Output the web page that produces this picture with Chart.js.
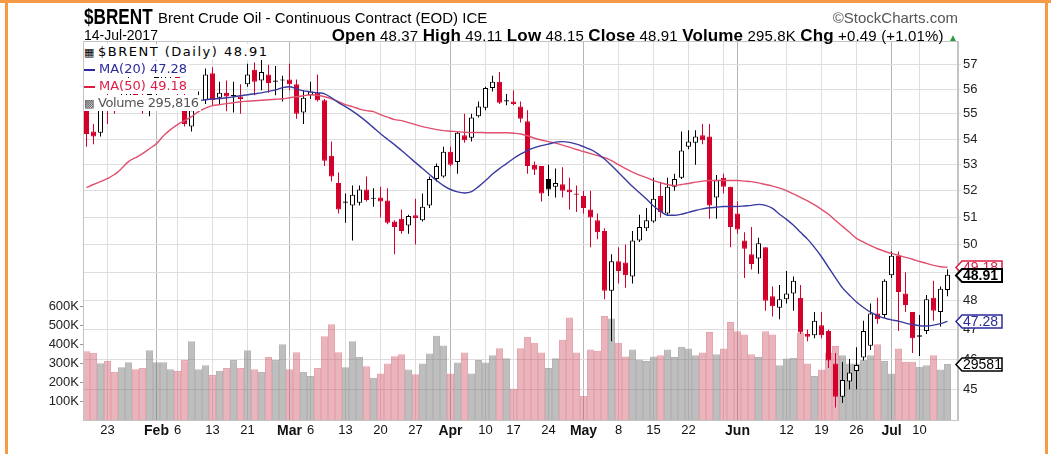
<!DOCTYPE html>
<html>
<head>
<meta charset="utf-8">
<script src="https://cdn.jsdelivr.net/npm/chart.js@4.4.0/dist/chart.umd.min.js"></script>
<style>
html, body { margin: 0; padding: 0; background: #fff; }
#wrap { position: relative; width: 1051px; height: 454px; overflow: hidden; background: #fff; }
#chart { position: absolute; left: 0; top: 0; }
.t { position: absolute; white-space: nowrap; font-family: "Liberation Sans", Arial, sans-serif; color: #000; line-height: 1; }
.lg { position: absolute; white-space: nowrap; font-family: "DejaVu Sans", Verdana, sans-serif; font-size: 13px; line-height: 16px; height: 16px; background: #fff; padding-right: 2px; }
.frame { position: absolute; background: #f79a46; }
</style>
</head>
<body>
<div id="wrap">
  <canvas id="chart" width="1051" height="454"></canvas>

  <div class="frame" style="left:0;top:0;width:1051px;height:3px"></div>
  <div class="frame" style="left:5px;top:0;width:3px;height:454px"></div>
  <div class="frame" style="left:1045px;top:0;width:3px;height:454px"></div>

  <div class="t" style="left:84px;top:6px;font-size:22px;font-weight:bold;transform:scaleX(0.78);transform-origin:left top">$BRENT</div>
  <div class="t" style="left:158px;top:10px;font-size:15px">Brent Crude Oil - Continuous Contract (EOD) ICE</div>
  <div class="t" style="right:93px;top:10px;font-size:15px;color:#555">&copy;StockCharts.com</div>
  <div class="t" style="left:84px;top:28px;font-size:14px">14-Jul-2017</div>
  <div class="t" style="right:93px;top:27px;font-size:15px;letter-spacing:0.15px">
    <b style="font-size:17px">Open</b> 48.37 <b style="font-size:17px">High</b> 49.11 <b style="font-size:17px">Low</b> 48.15
    <b style="font-size:17px">Close</b> 48.91 <b style="font-size:17px">Volume</b> 295.8K <b style="font-size:17px">Chg</b> +0.49 (+1.01%)
    <span style="color:#2a9a3a;font-size:10px">&#9650;</span>
  </div>

  <div class="lg" style="left:84px;top:44px;color:#000;letter-spacing:1.5px">
    <span style="display:inline-block;width:14px;font-size:11px">&#9638;</span>$BRENT (Daily) 48.91</div>
  <div class="lg" style="left:84px;top:61px;color:#2b2b9c">
    <span style="display:inline-block;width:11px;height:2px;background:#2b2b9c;vertical-align:middle;margin-right:4px"></span>MA(20) 47.28</div>
  <div class="lg" style="left:84px;top:78px;color:#dc1e46">
    <span style="display:inline-block;width:11px;height:2px;background:#dc1e46;vertical-align:middle;margin-right:4px"></span>MA(50) 49.18</div>
  <div class="lg" style="left:84px;top:95px;color:#555;letter-spacing:-0.4px">
    <span style="display:inline-block;width:14px;font-size:11px">&#9641;</span>Volume 295,816</div>
</div>

<script>
// trading days shown on the chart
const dates = [
  '2017-01-18','2017-01-19','2017-01-20','2017-01-23','2017-01-24','2017-01-25','2017-01-26','2017-01-27','2017-01-30','2017-01-31',
  '2017-02-01','2017-02-02','2017-02-03','2017-02-06','2017-02-07','2017-02-08','2017-02-09','2017-02-10','2017-02-13','2017-02-14',
  '2017-02-15','2017-02-16','2017-02-17','2017-02-21','2017-02-22','2017-02-23','2017-02-24','2017-02-27','2017-02-28',
  '2017-03-01','2017-03-02','2017-03-03','2017-03-06','2017-03-07','2017-03-08','2017-03-09','2017-03-10','2017-03-13','2017-03-14',
  '2017-03-15','2017-03-16','2017-03-17','2017-03-20','2017-03-21','2017-03-22','2017-03-23','2017-03-24','2017-03-27','2017-03-28',
  '2017-03-29','2017-03-30','2017-03-31',
  '2017-04-03','2017-04-04','2017-04-05','2017-04-06','2017-04-07','2017-04-10','2017-04-11','2017-04-12','2017-04-13','2017-04-17',
  '2017-04-18','2017-04-19','2017-04-20','2017-04-21','2017-04-24','2017-04-25','2017-04-26','2017-04-27','2017-04-28',
  '2017-05-01','2017-05-02','2017-05-03','2017-05-04','2017-05-05','2017-05-08','2017-05-09','2017-05-10','2017-05-11','2017-05-12',
  '2017-05-15','2017-05-16','2017-05-17','2017-05-18','2017-05-19','2017-05-22','2017-05-23','2017-05-24','2017-05-25','2017-05-26',
  '2017-05-30','2017-05-31',
  '2017-06-01','2017-06-02','2017-06-05','2017-06-06','2017-06-07','2017-06-08','2017-06-09','2017-06-12','2017-06-13','2017-06-14',
  '2017-06-15','2017-06-16','2017-06-19','2017-06-20','2017-06-21','2017-06-22','2017-06-23','2017-06-26','2017-06-27','2017-06-28',
  '2017-06-29','2017-06-30',
  '2017-07-03','2017-07-05','2017-07-06','2017-07-07','2017-07-10','2017-07-11','2017-07-12','2017-07-13','2017-07-14'
];

const openPrice = [
  55.3, 54.3, 54.25, 55.6, 55.4, 55.3, 55.7, 56.2, 55.6, 55.4,
  55.8, 56.4, 56.5, 56.7, 55.6, 54.5, 55.2, 55.55, 56.65, 55.65,
  55.85, 55.72, 55.7, 56.2, 56.8, 56.35, 56.6, 56.3, 56.35,
  56.4, 56.2, 55.05, 55.75, 55.85, 55.55, 53.35, 52.3, 51.55, 51.45,
  51.55, 52.05, 51.7, 51.75, 51.63, 50.85, 50.95, 50.7, 51.08, 50.9,
  51.45, 52.45, 52.55,
  53.5, 53.1, 54.15, 54.05, 54.9, 55.25, 56.05, 56.3, 55.5, 55.5,
  55.3, 54.7, 53.0, 52.95, 52.45, 52.15, 52.25, 52.05, 51.9,
  51.8, 51.3, 50.9, 50.5, 48.35, 49.4, 49.35, 48.85, 50.15, 50.6,
  50.85, 51.8, 51.15, 52.15, 52.5, 53.7, 53.85, 54.15, 54.1, 51.75,
  52.5, 52.15,
  51.15, 50.15, 49.65, 49.5, 49.9, 48.15, 47.75, 48.05, 48.25, 48.1,
  46.85, 46.8, 47.15, 46.95, 45.85, 44.75, 45.25, 45.6, 46.05, 46.45,
  47.55, 47.5,
  48.9, 49.6, 48.25, 47.6, 46.75, 46.95, 48.1, 47.6, 48.37
];
const highPrice = [
  55.5, 54.6, 55.5, 55.8, 55.7, 55.9, 56.5, 56.4, 55.8, 56.0,
  56.8, 56.9, 57.0, 56.9, 55.9, 55.3, 55.9, 56.85, 56.9, 56.3,
  56.35, 56.3, 56.2, 57.05, 57.1, 57.2, 57.0, 56.95, 56.55,
  57.05, 56.4, 55.95, 56.3, 56.6, 55.6, 53.9, 52.7, 51.9, 52.2,
  52.2, 52.55, 52.1, 52.15, 52.1, 50.9, 51.3, 51.1, 51.7, 51.9,
  52.55, 53.05, 53.7,
  53.7, 54.3, 55.0, 55.0, 55.5, 56.1, 56.55, 56.7, 55.8, 55.95,
  55.5, 55.15, 53.12, 52.95, 53.0, 52.85, 52.9, 52.5, 52.2,
  52.0, 52.0, 51.15, 50.6, 49.65, 49.9, 50.0, 50.5, 51.1, 51.35,
  52.5, 52.3, 52.5, 52.65, 54.3, 54.35, 54.35, 54.6, 54.6, 52.6,
  52.65, 52.15,
  51.6, 50.45, 50.65, 50.25, 49.9, 48.5, 48.55, 49.05, 48.85, 48.55,
  47.0, 47.6, 47.6, 47.0, 46.2, 45.9, 46.0, 46.4, 47.3, 47.9,
  48.1, 48.75,
  49.75, 49.75, 49.0, 47.6, 47.5, 48.2, 48.7, 48.5, 49.11
];
const lowPrice = [
  53.7, 53.8, 54.1, 54.6, 55.0, 55.2, 55.4, 55.3, 55.0, 54.9,
  55.6, 56.0, 56.2, 55.6, 54.5, 54.3, 55.1, 55.4, 55.35, 55.35,
  55.1, 55.05, 55.0, 56.1, 55.75, 55.95, 55.85, 55.75, 55.5,
  55.95, 54.8, 54.6, 55.6, 55.5, 52.95, 52.35, 51.15, 50.8, 50.15,
  51.45, 51.6, 51.4, 51.0, 50.75, 49.65, 50.4, 50.4, 50.0, 50.85,
  51.35, 52.35, 52.5,
  52.95, 52.65, 53.85, 53.9, 54.85, 55.15, 55.9, 55.4, 55.35, 55.35,
  54.65, 52.65, 52.6, 51.6, 51.8, 51.75, 51.75, 51.3, 51.2,
  51.15, 49.9, 50.2, 48.05, 46.6, 48.6, 48.45, 48.6, 50.1, 50.5,
  50.8, 51.0, 51.05, 52.0, 52.45, 53.6, 53.0, 53.8, 50.95, 50.95,
  51.9, 49.9,
  50.4, 48.8, 49.1, 48.95, 47.65, 47.45, 47.35, 47.9, 47.65, 46.85,
  46.6, 46.7, 46.7, 45.7, 44.4, 44.55, 45.0, 45.0, 45.95, 46.3,
  47.2, 47.4,
  48.8, 46.95, 47.6, 46.2, 46.1, 46.85, 47.3, 47.1, 48.15
];
const closePrice = [
  54.2, 54.1, 55.25, 55.2, 55.1, 55.7, 56.3, 55.6, 55.3, 55.8,
  56.5, 56.6, 56.8, 55.8, 54.6, 55.15, 55.7, 56.6, 55.55, 55.85,
  55.7, 55.75, 55.6, 56.6, 56.3, 56.7, 56.25, 56.35, 56.4,
  56.2, 55.0, 55.65, 55.9, 55.55, 53.15, 52.55, 51.3, 51.6, 51.85,
  52.05, 51.65, 51.72, 51.6, 50.8, 50.65, 50.5, 51.05, 50.98, 51.4,
  52.45, 52.95, 53.5,
  53.0, 54.25, 53.95, 54.85, 55.3, 56.05, 56.3, 55.45, 55.55, 55.4,
  54.8, 52.95, 52.8, 51.9, 52.05, 52.3, 52.0, 51.95, 51.85,
  51.35, 51.0, 50.45, 48.35, 49.4, 49.05, 48.9, 50.15, 50.65, 50.9,
  51.7, 51.2, 52.15, 52.45, 53.55, 53.9, 54.1, 53.95, 51.45, 52.4,
  52.15, 50.65,
  50.55, 49.85, 49.3, 50.05, 48.0, 47.8, 48.05, 48.25, 48.7, 46.9,
  46.75, 47.3, 46.8, 45.95, 44.75, 45.3, 45.55, 45.8, 46.95, 47.55,
  47.35, 48.7,
  49.6, 48.3, 47.85, 46.7, 46.8, 48.05, 47.65, 48.42, 48.91
];
const priorClose = 54.5;

const volume = [
  363000, 353000, 300000, 311000, 253000, 279000, 305000, 268000, 274000, 368000,
  305000, 305000, 268000, 258000, 316000, 416000, 268000, 289000, 237000, 258000,
  274000, 316000, 274000, 368000, 268000, 253000, 332000, 316000, 400000,
  268000, 358000, 253000, 232000, 274000, 442000, 505000, 358000, 279000, 416000,
  332000, 284000, 223000, 246000, 298000, 337000, 347000, 267000, 241000, 298000,
  351000, 444000, 393000,
  246000, 304000, 356000, 246000, 317000, 304000, 342000, 379000, 326000, 165000,
  379000, 438000, 407000, 356000, 275000, 326000, 423000, 541000, 356000,
  126000, 372000, 365000, 549000, 535000, 407000, 335000, 372000, 319000, 312000,
  335000, 342000, 372000, 333000, 386000, 377000, 342000, 356000, 465000, 347000,
  377000, 517000,
  468000, 451000, 347000, 333000, 468000, 451000, 289000, 325000, 328000, 461000,
  298000, 232000, 267000, 356000, 391000, 342000, 298000, 298000, 316000, 342000,
  400000, 311000,
  246000, 377000, 307000, 307000, 281000, 289000, 342000, 267000, 295816
];

const ma20 = [
  55.35, 55.38, 55.4, 55.42, 55.44, 55.45, 55.46, 55.47, 55.48, 55.48,
  55.49, 55.5, 55.5, 55.51, 55.51, 55.52, 55.53, 55.57, 55.6, 55.62,
  55.65, 55.69, 55.73, 55.77, 55.81, 55.85, 55.91, 55.97, 56.06,
  56.1, 56.01, 55.93, 55.89, 55.85, 55.81, 55.65, 55.45, 55.29, 55.11,
  54.91, 54.69, 54.45, 54.21, 53.99, 53.78, 53.55, 53.32, 53.08, 52.85,
  52.62, 52.39, 52.2,
  52.05, 51.96, 51.92, 51.97, 52.16, 52.39, 52.64, 52.85, 53.04, 53.24,
  53.41, 53.55, 53.66, 53.74, 53.8, 53.88, 53.9, 53.87, 53.8,
  53.7, 53.59, 53.43, 53.22, 52.97, 52.7, 52.43, 52.16, 51.93, 51.69,
  51.43, 51.23, 51.08, 51.08, 51.12, 51.19, 51.26, 51.32, 51.36, 51.38,
  51.41, 51.41,
  51.41, 51.43, 51.45, 51.49, 51.45, 51.34, 51.12, 50.93, 50.71, 50.45,
  50.2, 49.9, 49.56, 49.18, 48.8, 48.45, 48.19, 47.95, 47.76, 47.6,
  47.48, 47.39,
  47.33, 47.29, 47.22, 47.17, 47.13, 47.12, 47.15, 47.2, 47.28
];
const ma50 = [
  52.12, 52.24, 52.35, 52.47, 52.62, 52.85, 53.12, 53.27, 53.43, 53.62,
  53.82, 54.13, 54.37, 54.57, 54.73, 54.89, 55.09, 55.23, 55.33, 55.37,
  55.41, 55.45, 55.49, 55.51, 55.53, 55.55, 55.57, 55.59, 55.61,
  55.65, 55.69, 55.73, 55.77, 55.75, 55.69, 55.61, 55.49, 55.37, 55.29,
  55.19, 55.13, 55.09, 54.97, 54.87, 54.77, 54.73, 54.65, 54.57, 54.49,
  54.43, 54.37, 54.33,
  54.31, 54.29, 54.27, 54.26, 54.26, 54.25, 54.25, 54.25, 54.25, 54.23,
  54.2, 54.13, 54.03, 53.96, 53.9, 53.84, 53.76, 53.68, 53.59,
  53.51, 53.43, 53.35, 53.27, 53.16, 53.0, 52.85, 52.71, 52.6, 52.5,
  52.39, 52.31, 52.24, 52.2, 52.24, 52.28, 52.33, 52.37, 52.39, 52.39,
  52.39, 52.39,
  52.39, 52.37, 52.35, 52.3, 52.24, 52.18, 52.1, 52.01, 51.88, 51.75,
  51.62, 51.47, 51.3, 51.12, 50.89, 50.67, 50.45, 50.23, 50.09, 49.96,
  49.85, 49.76,
  49.68, 49.61, 49.54, 49.47, 49.39, 49.32, 49.25, 49.2, 49.18
];

const priceTicks = [45, 46, 47, 48, 49, 50, 51, 52, 53, 54, 55, 56, 57];
const volumeTicks = [100000, 200000, 300000, 400000, 500000, 600000];
// [date, text, month start]
const xTickLabels = [
  ['2017-01-23', '23', false], ['2017-02-01', 'Feb', true], ['2017-02-06', '6', false],
  ['2017-02-13', '13', false], ['2017-02-21', '21', false], ['2017-03-01', 'Mar', true],
  ['2017-03-06', '6', false], ['2017-03-13', '13', false], ['2017-03-20', '20', false],
  ['2017-03-27', '27', false], ['2017-04-03', 'Apr', true], ['2017-04-10', '10', false],
  ['2017-04-17', '17', false], ['2017-04-24', '24', false], ['2017-05-01', 'May', true],
  ['2017-05-08', '8', false], ['2017-05-15', '15', false], ['2017-05-22', '22', false],
  ['2017-05-30', '', false], ['2017-06-01', 'Jun', true], ['2017-06-12', '12', false],
  ['2017-06-19', '19', false], ['2017-06-26', '26', false], ['2017-07-03', 'Jul', true],
  ['2017-07-10', '10', false]
];

const RED = '#d4002c';
const BLACK = '#000000';
const isUp = closePrice.map((c, k) => c >= (k === 0 ? priorClose : closePrice[k - 1]));
const strokeColor = isUp.map(u => u ? BLACK : RED);
const bodyFill = closePrice.map((c, k) => c < openPrice[k] ? strokeColor[k] : '#ffffff');

const xTicks = xTickLabels.map(t => ({ value: dates.indexOf(t[0]), text: t[1], major: t[2] }));
const axisFont = '"Liberation Sans", Arial, sans-serif';

const last = dates.length - 1;
const tags = [
  { axis: 'y', value: ma50[last], text: ma50[last].toFixed(2), color: '#dc1e46', bold: false },
  { axis: 'y', value: closePrice[last], text: closePrice[last].toFixed(2), color: '#000', bold: true },
  { axis: 'y', value: ma20[last], text: ma20[last].toFixed(2), color: '#2b2b9c', bold: false },
  { axis: 'yVol', value: volume[last], text: String(volume[last]), color: '#000', bold: false }
];

const tagPlugin = {
  id: 'tags',
  afterDraw(chart) {
    const ctx = chart.ctx;
    const area = chart.chartArea;
    // plot frame
    ctx.save();
    ctx.strokeStyle = '#c4c4c4';
    ctx.lineWidth = 1;
    ctx.strokeRect(area.left + 0.5, area.top + 0.5, area.right - area.left - 1, area.bottom - area.top);
    ctx.restore();

    tags.forEach(t => {
      const yc = Math.round(chart.scales[t.axis].getPixelForValue(t.value)) + 0.5;
      const x = area.right - 2, w = 46, h = 13;
      ctx.save();
      ctx.beginPath();
      ctx.moveTo(x, yc);
      ctx.lineTo(x + 6, yc - h / 2);
      ctx.lineTo(x + w, yc - h / 2);
      ctx.lineTo(x + w, yc + h / 2);
      ctx.lineTo(x + 6, yc + h / 2);
      ctx.closePath();
      ctx.fillStyle = '#fff';
      ctx.fill();
      ctx.lineWidth = t.bold ? 2 : 1.5;
      ctx.strokeStyle = t.color;
      ctx.stroke();
      ctx.clip();
      ctx.fillStyle = t.color;
      ctx.font = (t.bold ? 'bold ' : '') + '14px "Liberation Sans", Arial, sans-serif';
      ctx.textBaseline = 'middle';
      ctx.fillText(t.text, x + 7, yc + 1);
      ctx.restore();
    });
  }
};

const ctx = document.getElementById('chart').getContext('2d');
new Chart(ctx, {
  data: {
    datasets: [
      {
        type: 'line', label: 'MA(20)', yAxisID: 'y', order: 0,
        data: ma20.map((v, k) => ({ x: k, y: v })),
        borderColor: '#3a3aa0', borderWidth: 1.4, pointRadius: 0, cubicInterpolationMode: 'monotone'
      },
      {
        type: 'line', label: 'MA(50)', yAxisID: 'y', order: 1,
        data: ma50.map((v, k) => ({ x: k, y: v })),
        borderColor: '#e0506e', borderWidth: 1.4, pointRadius: 0, cubicInterpolationMode: 'monotone'
      },
      {
        type: 'bar', label: 'body', yAxisID: 'y', order: 2, grouped: false,
        data: openPrice.map((o, k) => ({ x: k, y: [o, closePrice[k]] })),
        backgroundColor: bodyFill, borderColor: strokeColor, borderWidth: 1,
        borderSkipped: false, barThickness: 5, minBarLength: 1, inflateAmount: 0
      },
      {
        type: 'bar', label: 'wick', yAxisID: 'y', order: 3, grouped: false,
        data: lowPrice.map((l, k) => ({ x: k, y: [l, highPrice[k]] })),
        backgroundColor: strokeColor, borderWidth: 0, barThickness: 1, inflateAmount: 0
      },
      {
        type: 'bar', label: 'Volume', yAxisID: 'yVol', order: 4, grouped: false,
        data: volume.map((v, k) => ({ x: k, y: v })),
        backgroundColor: isUp.map(u => u ? 'rgba(110,110,110,0.45)' : 'rgba(200,70,90,0.40)'),
        borderColor: isUp.map(u => u ? 'rgba(120,120,120,0.55)' : 'rgba(215,90,110,0.55)'),
        borderWidth: 1, borderSkipped: 'start', barThickness: 7, inflateAmount: 0
      }
    ]
  },
  options: {
    responsive: false,
    animation: false,
    devicePixelRatio: 1,
    layout: { padding: { top: 41, left: 0, right: 0, bottom: 0 } },
    plugins: { legend: { display: false }, tooltip: { enabled: false } },
    scales: {
      x: {
        type: 'linear', offset: false, min: -0.5, max: dates.length + 0.5,
        afterBuildTicks: s => { s.ticks = xTicks.map(t => ({ value: t.value, major: t.major })); },
        afterFit: s => { s.height = 34; },
        ticks: {
          autoSkip: false, maxRotation: 0, padding: 3, color: '#111',
          callback: (v, i) => xTicks[i].text,
          font: c => ({ family: axisFont, size: (c.tick && c.tick.major) ? 14 : 13, weight: (c.tick && c.tick.major) ? 'bold' : 'normal' })
        },
        grid: {
          drawTicks: false, offset: false,
          color: c => (c.tick && c.tick.major) ? '#b4b4b4' : '#dedede'
        },
        border: { color: '#c4c4c4' }
      },
      y: {
        type: 'logarithmic', position: 'right', min: 44, max: 58,
        afterBuildTicks: s => { s.ticks = priceTicks.map(v => ({ value: v })); },
        afterFit: s => { s.width = 93; },
        ticks: { padding: 2, color: '#222', font: { family: axisFont, size: 13 }, callback: v => String(v) },
        grid: { color: '#dedede', tickLength: 3 },
        border: { color: '#c4c4c4' }
      },
      yVol: {
        type: 'linear', position: 'left', min: 0, max: 2000000,
        afterBuildTicks: s => { s.ticks = volumeTicks.map(v => ({ value: v })); },
        afterFit: s => { s.width = 83; },
        ticks: { padding: 1, color: '#222', font: { family: axisFont, size: 13 }, callback: v => (v / 1000) + 'K' },
        grid: { drawOnChartArea: false, tickLength: 3, color: '#999' },
        border: { color: '#c4c4c4' }
      }
    }
  },
  plugins: [tagPlugin]
});
</script>
</body>
</html>
